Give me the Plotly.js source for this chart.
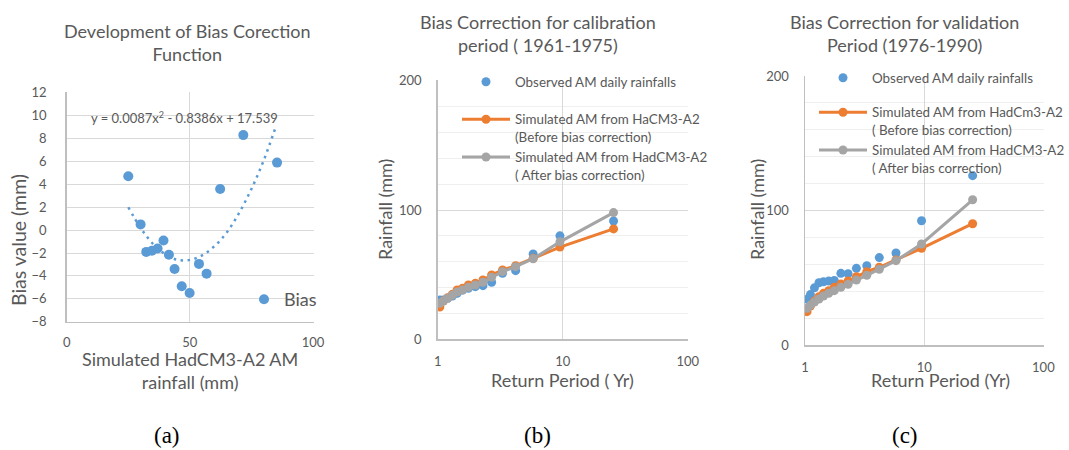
<!DOCTYPE html>
<html>
<head>
<meta charset="utf-8">
<script src="https://cdn.plot.ly/plotly-3.0.1.min.js"></script>
<style>html,body{margin:0;padding:0;background:#fff;overflow:hidden;}#chart{width:1069px;height:450px;}</style>
</head>
<body>
<div id="chart"></div>
<script>
// ---- Data ----
// Panel (a): bias vs simulated rainfall
const biasSim = [25.0, 30.0, 32.3, 34.6, 36.9, 39.3, 41.5, 43.8, 46.7, 49.9, 53.7, 56.8, 62.3, 71.7, 85.4];
const biasVal = [4.7, 0.5, -1.9, -1.8, -1.6, -0.9, -2.15, -3.4, -4.9, -5.5, -2.95, -3.8, 3.6, 8.3, 5.9];
// Polynomial trendline as drawn
const trendX = [25, 30, 35, 40, 45, 50, 55, 60, 65, 70, 75, 80, 85];
const trendY = [2.0, 0.2, -1.2, -2.1, -2.6, -2.6, -2.2, -1.4, -0.2, 1.5, 3.6, 6.1, 9.1];

// Panels (b) and (c): return period (yr) vs rainfall (mm)
const returnPeriod = [1.04, 1.11, 1.2, 1.31, 1.43, 1.58, 1.76, 2.0, 2.3, 2.7, 3.3, 4.2, 5.8, 9.5, 25.5];
const calObs    = [30.4, 30.4, 31.7, 33.5, 35.6, 38.1, 39.4, 40.7, 41.5, 44.1, 51.0, 53.1, 66.0, 80.0, 91.5];
const calBefore = [25.0, 29.6, 32.2, 34.8, 38.1, 39.4, 42.0, 43.3, 45.9, 49.7, 53.6, 56.9, 62.6, 71.3, 85.4];
const calAfter  = [27.8, 29.6, 31.7, 34.0, 36.6, 38.1, 40.2, 42.0, 44.1, 47.9, 52.3, 56.2, 62.3, 75.4, 98.0];
const valObs    = [34.0, 37.5, 42.5, 46.3, 47.0, 47.5, 48.0, 53.3, 53.0, 57.0, 59.0, 65.0, 68.4, 92.4, 125.9];
const valBefore = [24.8, 29.0, 32.7, 35.9, 38.4, 40.4, 42.9, 45.4, 47.6, 50.8, 54.5, 57.8, 63.2, 71.9, 90.2];
const valAfter  = [27.3, 29.7, 32.0, 34.2, 36.4, 38.4, 40.4, 42.9, 45.1, 48.3, 51.8, 56.3, 62.7, 75.1, 108.0];

// Tick labels
const biasXTicks = [0, 50, 100];
const biasYTicks = [-8, -6, -4, -2, 0, 2, 4, 6, 8, 10, 12];
const rpTicks = [1, 10, 100];
const rpTickText = ['1', '10', '100'];
const rainTicks = [0, 100, 200];

// Names / titles
const nameObs = 'Observed AM daily rainfalls';
const nameCalBefore = 'Simulated AM from HaCM3-A2<br>(Before bias correction)';
const nameCalAfter = 'Simulated AM from HadCM3-A2<br>( After bias correction)';
const nameValBefore = 'Simulated AM from HadCm3-A2<br>( Before bias correction)';
const nameValAfter = 'Simulated AM from HadCM3-A2<br>( After bias correction)';

// ---- Styling ----
const W = 1069, H = 450;
const FONT = 'Lato, "Open Sans", sans-serif';
const GREY = '#595959';
const BLUE = '#5b9bd5', ORANGE = '#ed7d31', GRAY = '#a5a5a5';
const px = v => v / W;
const py = v => 1 - v / H;

const traces = [
  {x: biasSim, y: biasVal, type: 'scatter', mode: 'markers', name: 'Bias',
   marker: {color: BLUE, size: 10}, xaxis: 'x', yaxis: 'y', legend: 'legend'},
  {x: trendX, y: trendY, type: 'scatter', mode: 'lines', showlegend: false,
   line: {color: BLUE, width: 2.5, dash: '2.5px,4.5px', shape: 'spline'}, xaxis: 'x', yaxis: 'y'},

  {x: returnPeriod, y: calObs, type: 'scatter', mode: 'markers', name: nameObs,
   marker: {color: BLUE, size: 9}, xaxis: 'x2', yaxis: 'y2', legend: 'legend2'},
  {x: returnPeriod, y: calBefore, type: 'scatter', mode: 'lines+markers', name: nameCalBefore,
   marker: {color: ORANGE, size: 9}, line: {color: ORANGE, width: 3}, xaxis: 'x2', yaxis: 'y2', legend: 'legend3'},
  {x: returnPeriod, y: calAfter, type: 'scatter', mode: 'lines+markers', name: nameCalAfter,
   marker: {color: GRAY, size: 9}, line: {color: GRAY, width: 3}, xaxis: 'x2', yaxis: 'y2', legend: 'legend3'},

  {x: returnPeriod, y: valObs, type: 'scatter', mode: 'markers', name: nameObs,
   marker: {color: BLUE, size: 9}, xaxis: 'x3', yaxis: 'y3', legend: 'legend4'},
  {x: returnPeriod, y: valBefore, type: 'scatter', mode: 'lines+markers', name: nameValBefore,
   marker: {color: ORANGE, size: 9}, line: {color: ORANGE, width: 3}, xaxis: 'x3', yaxis: 'y3', legend: 'legend5'},
  {x: returnPeriod, y: valAfter, type: 'scatter', mode: 'lines+markers', name: nameValAfter,
   marker: {color: GRAY, size: 9}, line: {color: GRAY, width: 3}, xaxis: 'x3', yaxis: 'y3', legend: 'legend5'}
];

const tickFont = {family: FONT, size: 13, color: GREY};
const baseAxis = {
  showline: true, linecolor: '#bfbfbf', linewidth: 1.5,
  showgrid: true, gridcolor: '#d9d9d9', gridwidth: 1,
  zeroline: false, ticks: '', tickfont: tickFont, fixedrange: true, automargin: false
};

const legendBase = {
  bgcolor: 'rgba(0,0,0,0)', borderwidth: 0, xanchor: 'left', yanchor: 'top',
  font: {family: FONT, size: 13.4, color: GREY}, valign: 'top', tracegroupgap: 0,
  itemwidth: 48, itemclick: false, itemdoubleclick: false
};

function ann(text, x, y, size, extra) {
  return Object.assign({text: text, x: px(x), y: py(y), xref: 'paper', yref: 'paper',
    xanchor: 'center', yanchor: 'middle', showarrow: false, align: 'center',
    font: {family: FONT, size: size, color: GREY}}, extra || {});
}
const SERIF = {family: '"Liberation Serif", "Times New Roman", serif', size: 23, color: '#000'};

const layout = {
  width: W, height: H,
  margin: {l: 0, r: 0, t: 0, b: 0, autoexpand: false},
  paper_bgcolor: '#fff', plot_bgcolor: '#fff',
  font: {family: FONT, color: GREY},
  showlegend: true,
  xaxis: Object.assign({}, baseAxis, {domain: [px(66.7), px(313.5)], range: [0, 100.2],
    tickvals: biasXTicks, ticklabelstandoff: 8, anchor: 'y'}),
  yaxis: Object.assign({}, baseAxis, {domain: [py(321.7), py(92.2)], range: [-8, 12.05],
    tickvals: biasYTicks, ticklabelstandoff: 16, anchor: 'x'}),
  xaxis2: Object.assign({}, baseAxis, {domain: [px(437.7), px(688)], type: 'log', range: [0, 2.002],
    tickvals: rpTicks, ticktext: rpTickText, ticklabelstandoff: 10, anchor: 'y2'}),
  yaxis2: Object.assign({}, baseAxis, {domain: [py(339.3), py(80.2)], range: [0, 200.4],
    tickvals: rainTicks, ticklabelstandoff: 12, anchor: 'x2',
    minor: {dtick: 20, showgrid: true, gridcolor: '#efefef', gridwidth: 1, ticks: ''}}),
  xaxis3: Object.assign({}, baseAxis, {domain: [px(805), px(1043.6)], type: 'log', range: [0, 2.002],
    tickvals: rpTicks, ticktext: rpTickText, ticklabelstandoff: 10, anchor: 'y3'}),
  yaxis3: Object.assign({}, baseAxis, {domain: [py(345), py(75.5)], range: [0, 200.4],
    tickvals: rainTicks, ticklabelstandoff: 12, anchor: 'x3',
    minor: {dtick: 20, showgrid: true, gridcolor: '#efefef', gridwidth: 1, ticks: ''}}),
  legend: Object.assign({}, legendBase, {x: px(244), y: py(281), itemwidth: 30,
    font: {family: FONT, size: 18, color: GREY}}),
  legend2: Object.assign({}, legendBase, {x: px(457), y: py(66.5)}),
  legend3: Object.assign({}, legendBase, {x: px(457), y: py(104)}),
  legend4: Object.assign({}, legendBase, {x: px(814), y: py(62.5)}),
  legend5: Object.assign({}, legendBase, {x: px(814), y: py(97)}),
  annotations: [
    ann('Development of Bias Corection<br>Function', 187, 42, 18),
    ann('Bias Correction for calibration<br>period ( 1961-1975)', 538, 33, 18),
    ann('Bias Correction for validation<br>Period (1976-1990)', 904, 33, 18),
    ann('y = 0.0087x<sup>2</sup> - 0.8386x + 17.539', 184, 117, 13),
    ann('Bias value (mm)', 18, 240, 19.5, {textangle: -90}),
    ann('Simulated HadCM3-A2 AM<br>rainfall (mm)', 190, 370, 18),
    ann('Rainfall (mm)', 385, 210, 18, {textangle: -90}),
    ann('Return Period ( Yr)', 562, 380, 18),
    ann('Rainfall (mm)', 757, 210, 18, {textangle: -90}),
    ann('Return Period (Yr)', 940, 380, 18),
    ann('(a)', 167, 435, 23, {font: SERIF}),
    ann('(b)', 537, 435, 23, {font: SERIF}),
    ann('(c)', 905, 435, 23, {font: SERIF})
  ]
};

Plotly.newPlot('chart', traces, layout, {staticPlot: true, displayModeBar: false});
</script>
</body>
</html>
